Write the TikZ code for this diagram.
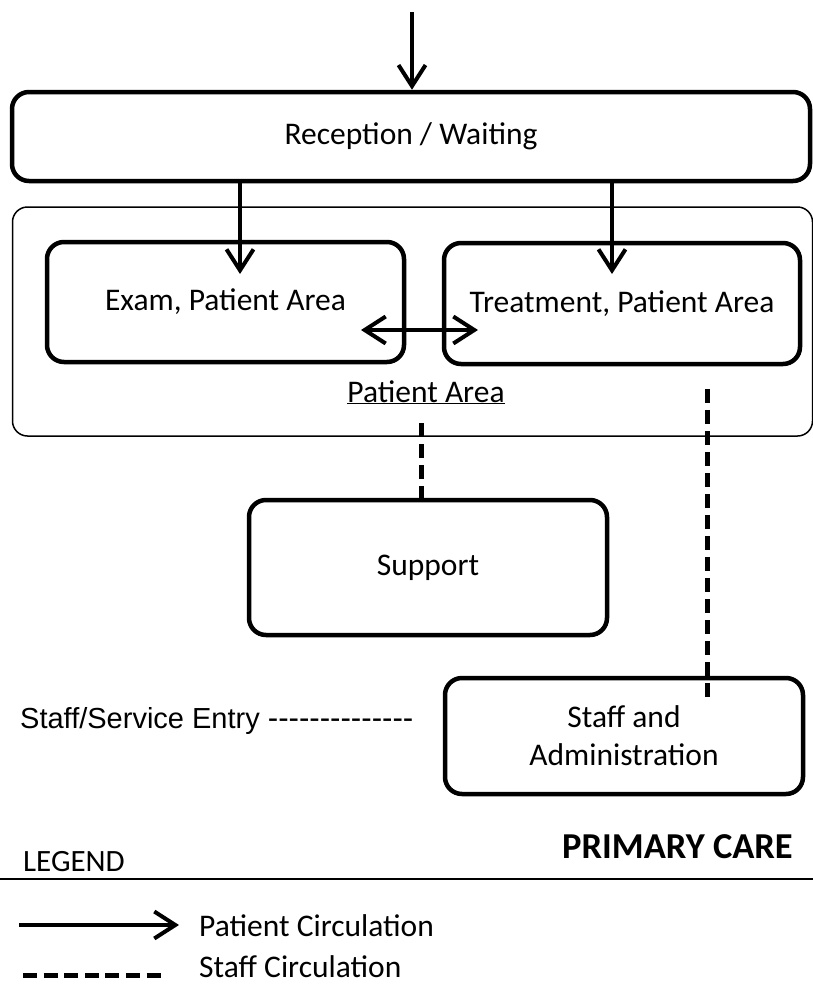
\documentclass[tikz,border=0pt]{standalone}
\usepackage{fontspec}
\setmainfont{Carlito}
\newfontfamily\arialf[Ligatures=TeXOff]{Liberation Sans}
\usetikzlibrary{arrows.meta}
\begin{document}
\begin{tikzpicture}[x=1pt,y=-1pt,
  room/.style={draw, line width=4.5pt, rounded corners=17pt, inner sep=0pt,
    align=center, font=\fontsize{31.5}{38}\selectfont},
  zone/.style={draw, line width=1.5pt, rounded corners=15pt, inner sep=0pt},
  txt/.style={font=\fontsize{31.5}{38}\selectfont, inner sep=0pt},
  parrow/.style={line width=4pt, -{Straight Barb[length=21pt,width=27pt,line width=4pt]}},
  darrow/.style={line width=4pt, {Straight Barb[length=21pt,width=27pt,line width=4pt]}-{Straight Barb[length=21pt,width=27pt,line width=4pt]}},
  sline/.style={line width=5pt, dash pattern=on 14pt off 7pt}
]
\useasboundingbox (0,0) rectangle (813,988);

% zones and rooms
\node[zone, minimum width=800pt, minimum height=229pt] (zone) at (412.5,321.5) {};
\node[room, minimum width=798pt, minimum height=89pt] (rec) at (411,136.5) {Reception / Waiting};
\node[room, minimum width=357pt, minimum height=120pt] (exam) at (225.5,302) {Exam, Patient Area};
\node[room, minimum width=356pt, minimum height=121pt] (treat) at (622,303.5) {Treatment, Patient Area};
\node[room, minimum width=358pt, minimum height=135pt] (sup) at (428,567.5) {Support};
\node[room, minimum width=358pt, minimum height=116pt] (staff) at (624,736) {};
\node[txt, anchor=base] (stafft1) at (624,727) {Staff and};
\node[txt, anchor=base] (stafft2) at (624,765) {Administration};

\node[txt, anchor=base] (palabel) at (426,402) {\underline{Patient Area}};

% coordinates for connector ends
\coordinate (entry) at (412,12);
\coordinate (examin) at (240,274);
\coordinate (treatin) at (612,274);
\coordinate (dl) at (361,330);
\coordinate (dr) at (478,330);
\coordinate (s1top) at (421,423);
\coordinate (s2top) at (707,389);
\coordinate (s2bot) at (707,702);

% patient circulation
\draw[parrow] (entry) -- (entry |- rec.north);
\draw[parrow] (examin |- rec.south) -- (examin);
\draw[parrow] (treatin |- rec.south) -- (treatin);
\draw[darrow] (dl) -- (dr);

% staff circulation
\draw[sline] (s1top) -- (s1top |- sup.north);
\draw[sline] (s2top) -- (s2bot);

% texts
\node[anchor=base west, inner sep=0pt] (entrytxt) at (20,728)
  {\arialf\fontsize{29}{35}\selectfont Staff/Service Entry {\fontsize{31.2}{35}\selectfont --------------}};
\node[font=\bfseries\fontsize{36.5}{42}\selectfont, anchor=base east, inner sep=0pt] (title) at (793,858) {PRIMARY CARE};
\node[font=\fontsize{31}{36}\selectfont, anchor=base west, inner sep=0pt] (legend) at (23,871) {LEGEND};

% legend
\coordinate (rl) at (0,879);
\coordinate (rr) at (813,879);
\draw[line width=2pt] (rl) -- (rr);
\coordinate (la1) at (19,925);
\coordinate (la2) at (179,925);
\draw[parrow] (la1) -- (la2);
\node[txt, anchor=base west] (ltxt1) at (199,936) {Patient Circulation};
\coordinate (ld1) at (23,975);
\coordinate (ld2) at (167,975);
\draw[line width=5pt, dash pattern=on 14pt off 6.6pt] (ld1) -- (ld2);
\node[txt, anchor=base west] (ltxt2) at (199,977) {Staff Circulation};
\end{tikzpicture}
\end{document}
